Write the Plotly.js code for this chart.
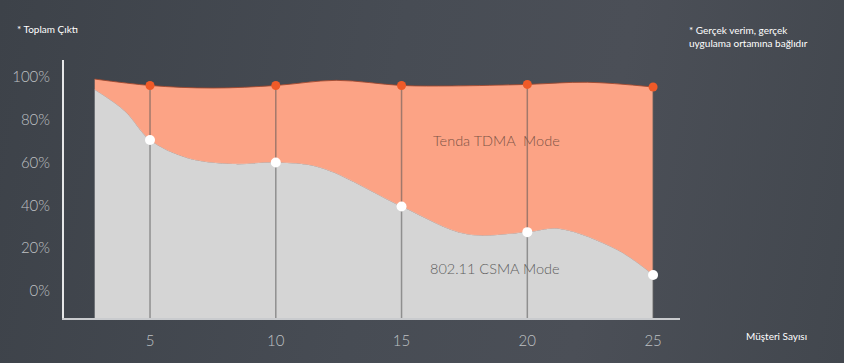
<!DOCTYPE html>
<html>
<head>
<meta charset="utf-8">
<script src="https://cdn.plot.ly/plotly-3.0.1.min.js"></script>
<style>
html,body{margin:0;padding:0;width:844px;height:363px;overflow:hidden;
background:linear-gradient(100deg,#3d4249 0%,#474c54 45%,#4b4f57 70%,#42474e 100%);}
#chart{width:844px;height:363px;}
</style>
</head>
<body>
<div id="chart"></div>
<script>
// ---- data ----
const clients = [5, 10, 15, 20, 25];
const tdmaPoints = [96, 96, 96, 96.5, 95.3];
const csmaPoints = [70.5, 60, 39.5, 27.5, 7.5];
const tdmaCurveX = [2.8, 5, 7.5, 10, 12.4, 15, 17, 20, 22.4, 25];
const tdmaCurveY = [99, 96, 94.8, 96, 98.4, 96, 95.8, 96.5, 97.5, 95.3];
const csmaCurveX = [2.8, 4, 5, 6.5, 8.3, 10, 11.8, 15, 17.6, 20, 21.3, 23.6, 25];
const csmaCurveY = [94, 84, 70.5, 62, 59.3, 60, 57.5, 39.5, 26.5, 27.5, 29, 19, 7.5];
const yTickVals = [0, 20, 40, 60, 80, 100];
const yTickText = ['0%', '20%', '40%', '60%', '80%', '100%'];
const xTickVals = [5, 10, 15, 20, 25];
const xTickText = ['5', '10', '15', '20', '25'];
const labelTdma = 'Tenda TDMA\u00a0\u00a0Mode';
const labelCsma = '802.11 CSMA Mode';
const yAxisNote = '* Toplam Çıktı';
const sideNote = '* Gerçek verim, gerçek<br>uygulama ortamına bağlıdır';
const xAxisNote = 'Müşteri Sayısı';

const yRange = [-12.6, 107.9];
const xRange = [1.58, 26.07];
const yFloor = yRange[0];

// baseline for the grey fill (axis floor)
const baseX = [csmaCurveX[0], csmaCurveX[csmaCurveX.length - 1]];
const baseY = baseX.map(() => yFloor);

// vertical drop lines built from the data
const dropX = [], dropY = [];
clients.forEach((c, i) => { dropX.push(c, c, null); dropY.push(yFloor, tdmaPoints[i], null); });

const traces = [
  {x: baseX, y: baseY, mode: 'lines', line: {width: 0}, hoverinfo: 'skip', showlegend: false},
  {x: csmaCurveX, y: csmaCurveY, mode: 'lines', fill: 'tonexty', fillcolor: '#d5d5d5',
   line: {color: '#d5d5d5', width: 0.5, shape: 'spline', smoothing: 1.0}, showlegend: false},
  {x: tdmaCurveX, y: tdmaCurveY, mode: 'lines', fill: 'tonexty', fillcolor: '#fca385',
   line: {color: 'rgba(160,70,45,0.85)', width: 1, shape: 'spline', smoothing: 1.0}, showlegend: false},
  {x: dropX, y: dropY, mode: 'lines', line: {color: 'rgba(85,85,85,0.55)', width: 1.5}, showlegend: false, hoverinfo: 'skip'},
  {x: clients, y: tdmaPoints, mode: 'markers', marker: {color: '#ef5a28', size: 9}, showlegend: false},
  {x: clients, y: csmaPoints, mode: 'markers', marker: {color: '#ffffff', size: 10}, showlegend: false}
];

const layout = {
  width: 844, height: 363,
  margin: {l: 64, r: 164, t: 60, b: 45},
  paper_bgcolor: 'rgba(0,0,0,0)', plot_bgcolor: 'rgba(0,0,0,0)',
  font: {family: 'Lato, "Open Sans", sans-serif'},
  xaxis: {range: xRange, showgrid: false, zeroline: false, showline: true,
          linecolor: '#c9cbce', linewidth: 2, tickvals: xTickVals, ticktext: xTickText,
          ticks: 'outside', ticklen: 8, tickcolor: 'rgba(0,0,0,0)',
          tickfont: {size: 15, color: '#bfc1c4', weight: 300}},
  yaxis: {range: yRange, showgrid: false, zeroline: false, showline: true,
          linecolor: '#e6e7e8', linewidth: 2, tickvals: yTickVals, ticktext: yTickText,
          ticks: 'outside', ticklen: 9, tickcolor: 'rgba(0,0,0,0)',
          tickfont: {size: 15, color: '#bfc1c4', weight: 300}},
  annotations: [
    {text: labelTdma, x: 18.76, y: 70.1, xref: 'x', yref: 'y', showarrow: false,
     font: {size: 14.5, color: '#7d5446', weight: 300}},
    {text: labelCsma, x: 18.72, y: 10.7, xref: 'x', yref: 'y', showarrow: false,
     font: {size: 14.5, color: '#5e5e5e', weight: 300}},
    {text: yAxisNote, x: -0.0795, y: 1.12, xref: 'paper', yref: 'paper', xanchor: 'left', yanchor: 'middle',
     showarrow: false, font: {size: 10, color: '#ffffff'}},
    {text: sideNote, x: 1.0114, y: 1.093, xref: 'paper', yref: 'paper', xanchor: 'left', yanchor: 'middle',
     align: 'left', showarrow: false, font: {size: 10, color: '#ffffff'}},
    {text: xAxisNote, x: 1.157, y: -0.0698, xref: 'paper', yref: 'paper', xanchor: 'center', yanchor: 'middle',
     showarrow: false, font: {size: 10, color: '#ffffff'}}
  ]
};

Plotly.newPlot('chart', traces, layout, {displayModeBar: false, staticPlot: true});
</script>
</body>
</html>
